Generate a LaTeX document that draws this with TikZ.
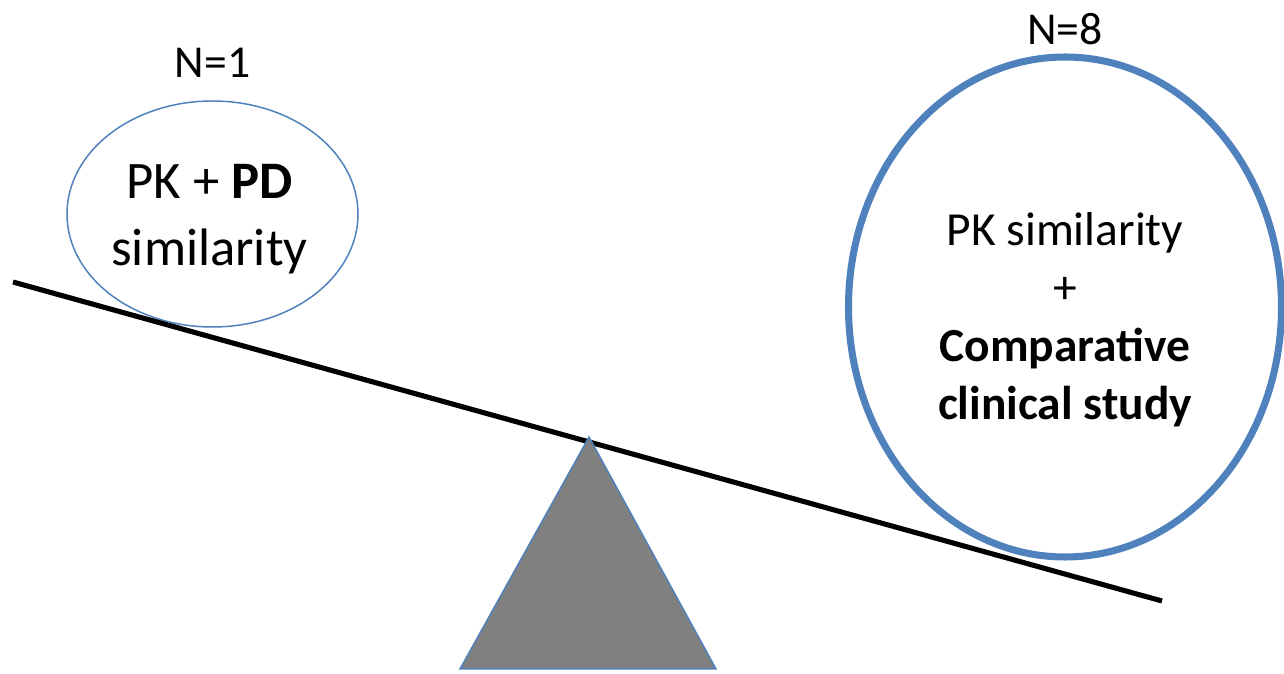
\documentclass[tikz,border=0pt]{standalone}
\usepackage{fontspec}
\setmainfont{Carlito}
\usetikzlibrary{shapes.geometric}
\definecolor{ringblue}{RGB}{79,129,189}
\definecolor{pivotgray}{RGB}{128,128,128}

\begin{document}
\begin{tikzpicture}
      \useasboundingbox (0,0) rectangle (25.68,13.48);

      \node[ellipse, draw=ringblue, line width=0.85pt, fill=white, inner sep=0pt, minimum width=5.82cm, minimum height=4.52cm, label={[font=\fontsize{26}{31}\selectfont, label distance=0.33cm]above:{N=1}}] (pd) at (4.25,9.2) {};
      \node[ellipse, draw=ringblue, line width=4pt, fill=white, inner sep=0pt, minimum width=8.66cm, minimum height=10cm, label={[font=\fontsize{26}{31}\selectfont, label distance=0.05cm]above:{N=8}}] (study) at (21.3,7.34) {};

      \node[align=center, font=\fontsize{30}{38}\selectfont, xshift=-0.06cm, yshift=-0.1cm] (pdtext) at (pd.center) {PK + \textbf{PD}\\similarity};
      \node[align=center, font=\fontsize{27}{33}\selectfont, yshift=-0.25cm] (studytext) at (study.center) {PK similarity\\+\\\textbf{Comparative}\\\textbf{clinical study}};

      \coordinate (beamL) at (0.26,7.84);
      \coordinate (beamR) at (23.24,1.46);
      \draw[line width=2.9pt] (beamL) -- (beamR);

      \coordinate (apex) at (11.78,4.74);
      \coordinate (baseL) at (9.2,0.1);
      \coordinate (baseR) at (14.32,0.1);
      \draw[ringblue, line width=0.85pt, fill=pivotgray] (apex) -- (baseR) -- (baseL) -- cycle;
    \end{tikzpicture}
\end{document}
